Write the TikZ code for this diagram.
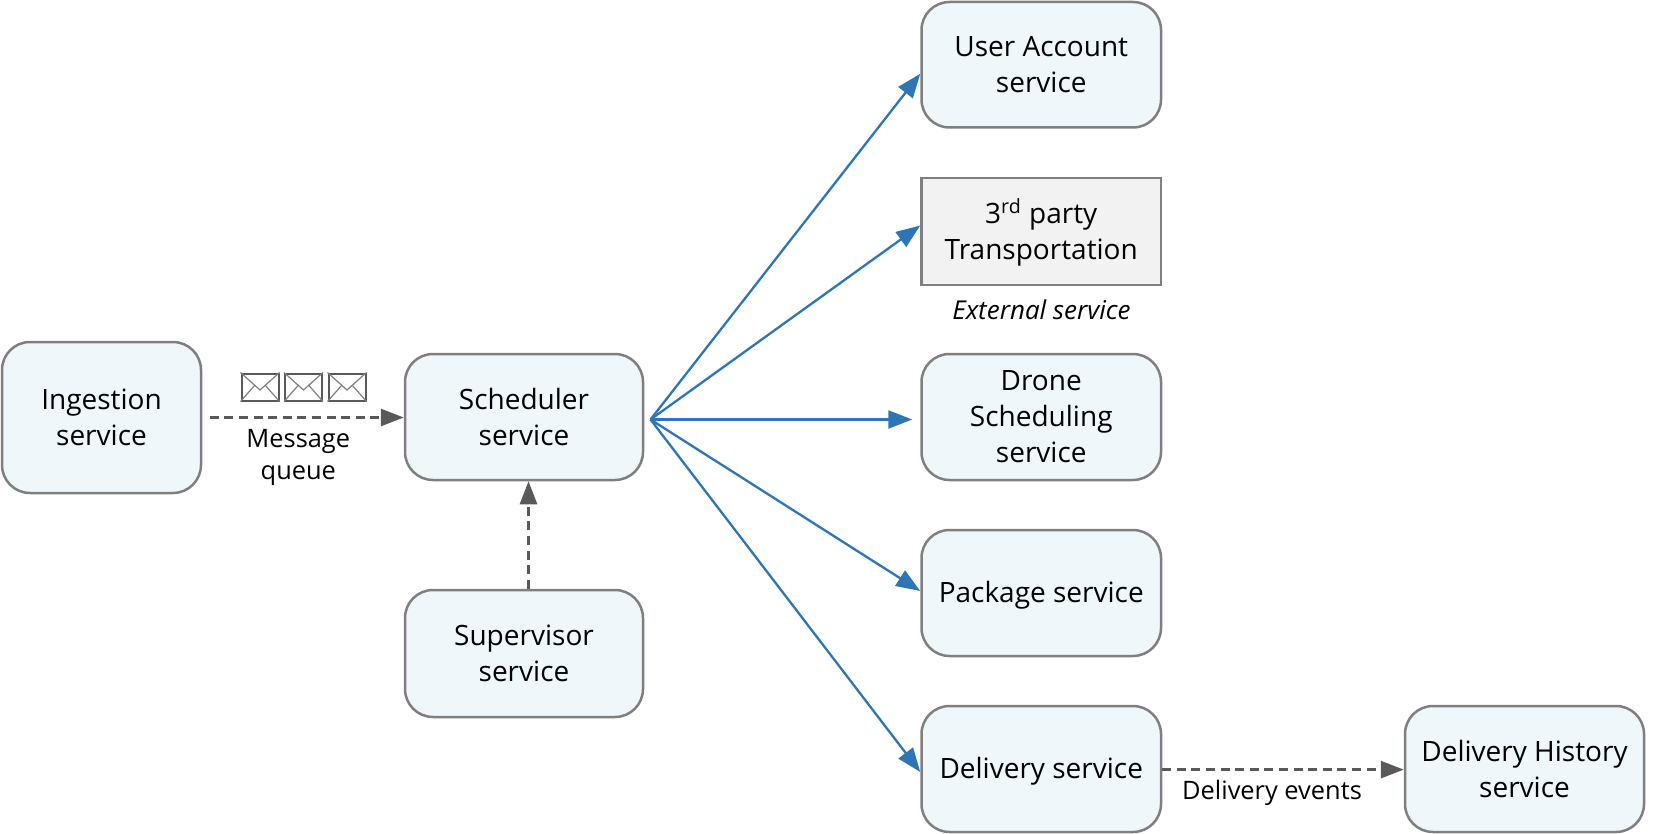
\documentclass[tikz,border=0pt]{standalone}
\usepackage{fontspec}
\setmainfont{Open Sans}
\usetikzlibrary{arrows.meta,calc}
\definecolor{svcfill}{HTML}{EFF7FA}
\definecolor{extfill}{HTML}{F2F2F2}
\definecolor{boxline}{HTML}{7F7F7F}
\definecolor{bluearrow}{HTML}{2E75B6}
\definecolor{grayarrow}{HTML}{595959}
\newcommand{\lowertext}[2]{\raisebox{-#1}[\height][\depth]{#2}}
\tikzset{
  x=0.5pt,y=-0.5pt,
  boxbase/.style={draw=boxline,line width=1.25pt,align=center,inner sep=0pt,
    font=\fontsize{14}{18}\selectfont,text=black},
  svc/.style={boxbase,fill=svcfill,rounded corners=14pt},
  ext/.style={boxbase,fill=extfill},
  lbl/.style={align=center,inner sep=0pt,font=\fontsize{12.7}{16.2}\selectfont,text=black},
  bluelink/.style={draw=bluearrow,line width=1.15pt,-{Triangle[length=12pt,width=9pt]}},
  dashlink/.style={draw=grayarrow,line width=1.4pt,dash pattern=on 4.5pt off 2.8pt,-{Triangle[length=11.5pt,width=8.5pt]}},
  envelope/.style={draw=grayarrow,line width=1pt,fill=white,minimum width=18.5pt,minimum height=13.5pt,inner sep=0pt},
  envfold/.style={draw=boxline,line width=0.6pt},
}
\begin{document}
\begin{tikzpicture}
\useasboundingbox (0,0) rectangle (1653,834);
\node[svc,minimum width=99.5pt,minimum height=75.5pt] (ingest) at (101.5,417.5) {Ingestion\\service};
\node[svc,minimum width=119pt,minimum height=63pt] (sched) at (524,417) {Scheduler\\service};
\node[svc,minimum width=119pt,minimum height=63.5pt] (superv) at (524,653.5) {Supervisor\\service};
\node[svc,minimum width=119.75pt,minimum height=62.75pt] (user) at (1041.25,64.75) {User Account\\service};
\node[ext,minimum width=119.75pt,minimum height=53.5pt] (third) at (1041.25,231.5) {\lowertext{0.5pt}{3\textsuperscript{rd} party}\\\lowertext{0.5pt}{Transportation}};
\node[svc,minimum width=119.75pt,minimum height=63pt] (drone) at (1041.25,417) {Drone\\Scheduling\\service};
\node[svc,minimum width=119.75pt,minimum height=63pt] (pack) at (1041.25,593) {\lowertext{1pt}{Package service}};
\node[svc,minimum width=119.75pt,minimum height=63pt] (deliv) at (1041.25,769) {\lowertext{1pt}{Delivery service}};
\node[svc,minimum width=119.5pt,minimum height=63pt] (hist) at (1524.5,769) {Delivery History\\service};
\node[lbl,font=\fontsize{13}{16}\selectfont\itshape] (extlabel) at (1041.5,310) {External service};
\node[lbl] (msg) at (298.3,457.5) {Message\\queue};
\node[lbl] (evt) at (1272,793) {Delivery events};
\node[envelope] (e1) at (260,387) {};
\node[envelope] (e2) at (303.5,387) {};
\node[envelope] (e3) at (347,387) {};
\foreach \e in {e1,e2,e3}{
  \draw[envfold] (\e.north west) -- ($(\e.center)+(0,3)$) -- (\e.north east);
  \draw[envfold] (\e.south west) -- ($(\e.center)+(-5,-2)$);
  \draw[envfold] (\e.south east) -- ($(\e.center)+(5,-2)$);
}
\coordinate (hub) at (650.5,419.5);
\coordinate (ingout) at ($(ingest.east)+(7.5,0)$);
\draw[bluelink] (hub) -- ($(user.west)+(0,9)$);
\draw[bluelink] (hub) -- ($(third.west)+(0,-6)$);
\draw[bluelink] (hub) -- ($(drone.west)+(-8,2.5)$);
\draw[bluelink] (hub) -- ($(pack.west)+(0,-2)$);
\draw[bluelink] (hub) -- ($(deliv.west)+(0,3)$);
\draw[dashlink] (ingout) -- (ingout -| sched.west);
\draw[dashlink] (superv.north -| 528.5,0) -- (sched.south -| 528.5,0);
\draw[dashlink] ($(deliv.east)+(0,0.6)$) -- ($(hist.west)+(0,0.6)$);
\end{tikzpicture}
\end{document}
